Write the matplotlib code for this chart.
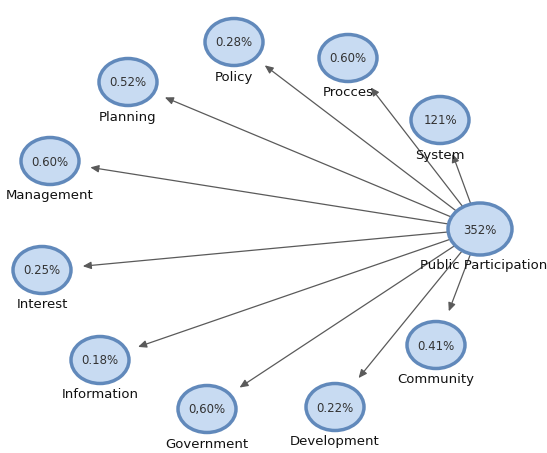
import numpy as np
import matplotlib.pyplot as plt
from matplotlib.patches import Ellipse, FancyArrowPatch

plt.rcParams['font.family'] = ['DejaVu Sans']

# node data
hub_label = "Public Participation"
hub_value = "352%"
labels = ["System", "Procces", "Policy", "Planning", "Management", "Interest",
          "Information", "Government", "Development", "Community"]
values = ["121%", "0.60%", "0.28%", "0.52%", "0.60%", "0.25%",
          "0.18%", "0,60%", "0.22%", "0.41%"]

# layout (pixel positions in the picture)
hub_xy = (480, 229)
node_x = [440, 348, 234, 128, 50, 42, 100, 207, 335, 436]
node_y = [120, 58, 42, 82, 161, 270, 360, 409, 407, 345]

W, H = 547, 453
fig = plt.figure(figsize=(W / 100, H / 100), dpi=100)
ax = fig.add_axes([0, 0, 1, 1])
ax.set_xlim(0, W)
ax.set_ylim(H, 0)
ax.axis('off')

fill = '#c8dbf2'
edge = '#6189bb'
rx, ry = 29, 23.5
hrx, hry = 32, 26


def ell_r(a, b, ux, uy):
    return 1.0 / np.sqrt((ux / a) ** 2 + (uy / b) ** 2)


for x, y in zip(node_x, node_y):
    dx, dy = x - hub_xy[0], y - hub_xy[1]
    d = np.hypot(dx, dy)
    ux, uy = dx / d, dy / d
    sx = hub_xy[0] + ux * ell_r(hrx, hry, ux, uy)
    sy = hub_xy[1] + uy * ell_r(hrx, hry, ux, uy)
    gap = ell_r(rx, ry, ux, uy) + 12
    ex, ey = x - ux * gap, y - uy * gap
    ax.add_patch(FancyArrowPatch((sx, sy), (ex, ey), arrowstyle='-|>,head_length=5,head_width=2.2',
                                 color='#5a5a5a', lw=0.9, shrinkA=0, shrinkB=0, zorder=1))

for x, y, lab, val in zip(node_x, node_y, labels, values):
    ax.add_patch(Ellipse((x, y), 2 * rx, 2 * ry, facecolor=fill, edgecolor=edge, lw=2.5, zorder=2))
    ax.text(x, y + 1, val, ha='center', va='center', fontsize=8.5, color='#333333', zorder=3)
    ax.text(x, y + 35, lab, ha='center', va='center', fontsize=9.5, color='#111111', zorder=3)

ax.add_patch(Ellipse(hub_xy, 2 * hrx, 2 * hry, facecolor=fill, edgecolor=edge, lw=2.5, zorder=2))
ax.text(hub_xy[0], hub_xy[1] + 1, hub_value, ha='center', va='center', fontsize=8.5, color='#333333', zorder=3)
ax.text(hub_xy[0] + 4, hub_xy[1] + 37, hub_label, ha='center', va='center', fontsize=9.5,
        color='#111111', zorder=3)

fig.savefig('out.png', dpi=100)
